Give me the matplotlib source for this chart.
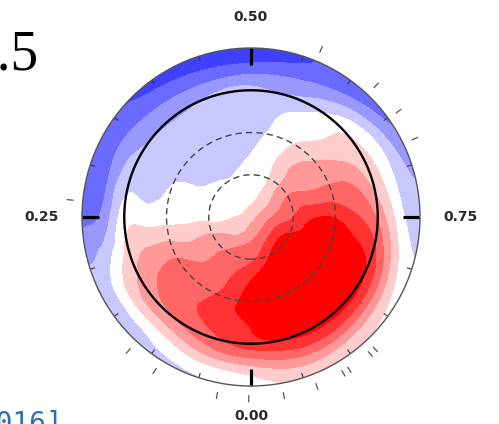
import numpy as np
import matplotlib
matplotlib.use("Agg")
import matplotlib.pyplot as plt
import matplotlib.tri as mtri
from matplotlib.colors import ListedColormap, BoundaryNorm

# ---------------- data ----------------
# rotational phase of the grid columns (0 = bottom, increasing clockwise)
phases = [0.0, 0.0625, 0.125, 0.1875, 0.25, 0.3125, 0.375, 0.4375,
          0.5, 0.5625, 0.625, 0.6875, 0.75, 0.8125, 0.875, 0.9375]
# colatitude of the grid rings (deg); map edge at 120 (latitude -30)
colatitudes = [0, 15, 30, 45, 60, 75, 90, 105, 120]

# field level estimated at every grid node (one list per ring)
ring000 = [1.2] * 16
ring015 = [2.3, 1.8, 1.3, 0.8, 0.4, 0.0, -0.1, 0.0, 0.2, 0.6, 1.2, 1.9, 2.5, 3.0, 3.0, 2.7]
ring030 = [3.3, 3.0, 2.3, 1.5, 0.2, 0.0, -0.3, -0.4, 0.0, 0.4, 1.7, 2.8, 3.5, 4.5, 5.0, 4.3]
ring045 = [4.5, 3.3, 2.5, 1.5, 0.2, -0.3, -1.0, -1.0, -0.5, 0.4, 1.8, 2.6, 4.4, 5.2, 5.5, 5.3]
ring060 = [5.0, 3.6, 3.0, 2.0, 0.1, -0.5, -1.0, -1.1, -0.9, 0.1, 1.3, 2.5, 4.4, 5.5, 5.8, 5.6]
ring075 = [4.6, 3.8, 3.0, 2.0, 0.0, -0.9, -1.2, -1.3, -1.2, -0.2, 0.6, 2.2, 3.6, 5.2, 5.6, 5.4]
ring090 = [4.0, 3.0, 2.3, 1.3, 0.0, -1.1, -1.6, -1.5, -1.3, -1.3, 0.2, 1.0, 2.3, 4.3, 4.8, 4.7]
ring105 = [1.6, 1.0, 0.2, -0.2, -2.2, -2.4, -2.7, -3.0, -3.0, -2.6, -1.5, -0.5, 0.0, 1.6, 2.4, 2.6]
ring120 = [0.0, -0.6, -0.9, -1.2, -2.8, -3.1, -3.6, -4.0, -4.2, -3.5, -3.0, -2.0, -1.0, -0.2, 0.5, 0.8]

# discrete colour levels of the map
level_colors = ["#4040ff", "#6a6aff", "#9898ff", "#c8c8ff", "#ffffff",
                "#ffcccc", "#ff9999", "#ff6666", "#ff3333", "#ff0000"]
level_bounds = [-9, -3.5, -2.5, -1.5, -0.5, 0.5, 1.5, 2.5, 3.5, 4.5, 9]

# latitude circles
equator_colat = 90
dashed_colats = [30, 60]

# phase axis ticks
tick_phases = [0.0, 0.25, 0.5, 0.75]
tick_labels = ["0.00", "0.25", "0.50", "0.75"]
minor_phases = [0.05, 0.10, 0.15, 0.20, 0.30, 0.35, 0.40, 0.45, 0.55, 0.60,
                0.65, 0.70, 0.80, 0.85, 0.90, 0.95]
# phases of the observations (small marks outside the map)
obs_phases = [0.002, 0.030, 0.089, 0.118, 0.265, 0.563, 0.621, 0.651, 0.679,
              0.880, 0.886, 0.909, 0.915, 0.941, 0.971]

# ---------------- figure ----------------
W, H = 499, 424
fig = plt.figure(figsize=(W / 100, H / 100), dpi=100)
cx, cy, R = 251, 217, 169
ax = fig.add_axes([(cx - R) / W, (H - cy - R) / H, 2 * R / W, 2 * R / H],
                  projection="polar")
ax.set_theta_zero_location("S")
ax.set_theta_direction(-1)

# grid in index space (sector index, ring index), padded for periodicity and edge
rings = [ring000, ring015, ring030, ring045, ring060, ring075, ring090, ring105, ring120]
nj = len(phases)
r_step = colatitudes[1] - colatitudes[0]
Zc = np.array(rings, dtype=float)
Zp = np.vstack([Zc, Zc[-1:]])                    # pad ring just beyond the clip edge
ext = 2
cols = np.arange(-ext, nj + ext + 1)
Zt = Zp[:, cols % nj]
ri = np.append(np.array(colatitudes, dtype=float) / r_step, 127.0 / r_step)
XI, YI = np.meshgrid(cols.astype(float), ri)
nr, nc = XI.shape
tris = []
for i in range(nr - 1):
    for j in range(nc - 1):
        a = i * nc + j
        b = a + 1
        c = a + nc + 1
        d = a + nc
        tris.append([a, b, c])
        tris.append([a, c, d])
tri = mtri.Triangulation(XI.ravel(), YI.ravel(), np.array(tris))
refiner = mtri.UniformTriRefiner(tri)
tri_f, z_f = refiner.refine_field(Zt.ravel(), subdiv=4)
cxs = tri_f.x[tri_f.triangles].mean(axis=1)
mask = (cxs < 0) | (cxs > nj)
tri_plot = mtri.Triangulation(2 * np.pi * tri_f.x / nj, tri_f.y * r_step,
                              tri_f.triangles, mask=mask)

cmap = ListedColormap(level_colors)
norm = BoundaryNorm(level_bounds, cmap.N)
ax.tricontourf(tri_plot, z_f, levels=level_bounds, cmap=cmap, norm=norm)

rmax = 120
ax.set_ylim(0, rmax)
ax.set_xticks([])
ax.set_yticks([])
ax.grid(False)
ax.spines["polar"].set_color("#555555")
ax.spines["polar"].set_linewidth(1.0)

tt = np.linspace(0, 2 * np.pi, 721)
ax.plot(tt, np.full_like(tt, equator_colat), color="black", lw=1.7)
for c in dashed_colats:
    ax.plot(tt, np.full_like(tt, c), color="#444444", lw=1.0,
            ls=(0, (4.5, 3.0)))

for p in tick_phases:
    ax.plot([2 * np.pi * p] * 2, [rmax - 12, rmax], color="black", lw=2.3,
            solid_capstyle="butt")
for p in minor_phases:
    ax.plot([2 * np.pi * p] * 2, [rmax - 3.5, rmax], color="#333333", lw=0.8,
            solid_capstyle="butt")
for p in obs_phases:
    ax.plot([2 * np.pi * p] * 2, [126.5, 131.5], color="#555555", lw=0.9,
            solid_capstyle="butt", clip_on=False)

label_r = {0.0: 141, 0.25: 149, 0.5: 142, 0.75: 149}
for p, s in zip(tick_phases, tick_labels):
    ax.text(2 * np.pi * p, label_r[p], s, ha="center", va="center",
            fontsize=10, fontweight="bold", color="#2a2a2a",
            family="DejaVu Sans")

# fragments of neighbouring content
fig.text(38 / W, 1 - 70 / H, "1.5", ha="right", va="baseline",
         fontsize=40, family="Liberation Serif", color="black")
fig.text(-21 / W, 1 - 432 / H, "2016]", ha="left", va="baseline",
         fontsize=20, family="DejaVu Sans Mono", color="#2a6ebb")

fig.savefig("out.png", dpi=100)
